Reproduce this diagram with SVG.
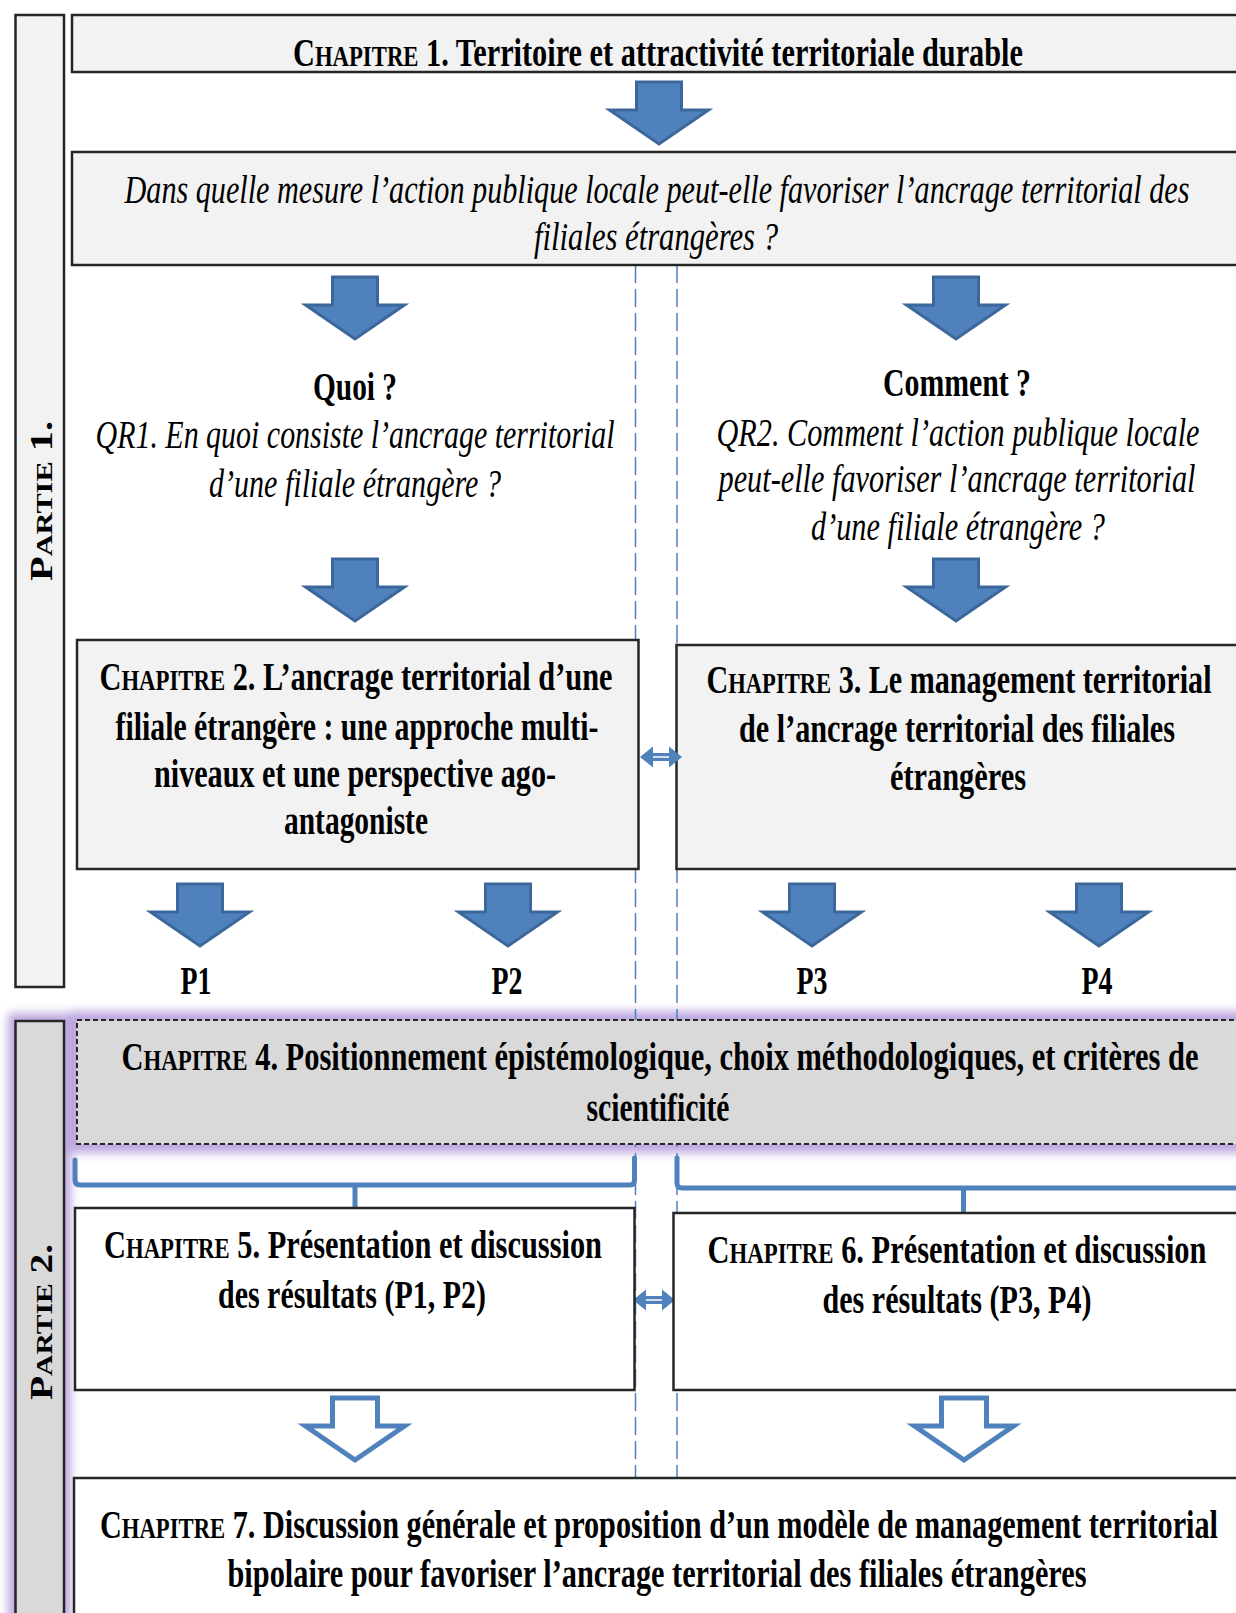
<svg xmlns="http://www.w3.org/2000/svg" width="1236" height="1613" viewBox="0 0 1236 1613">
  <style>
    .box { stroke: #262626; stroke-width: 2.5; }
    .light { fill: #f2f2f2; }
    .grey { fill: #d9d9d9; }
    .white { fill: #ffffff; }
    .dash { stroke-dasharray: 5 3; stroke-width: 2; }
    .b { font-family: "Liberation Serif", "Times New Roman", serif; font-weight: bold; font-size: 40px; fill: #000; text-anchor: middle; }
    .i { font-family: "Liberation Serif", "Times New Roman", serif; font-style: italic; font-size: 40px; fill: #000; text-anchor: middle; }
    .sc { font-size: 30px; }
    .part { font-family: "Liberation Serif", "Times New Roman", serif; font-weight: bold; font-size: 32px; fill: #000; text-anchor: middle; }
    .sc2 { font-size: 24px; }
    .guide { stroke: #4f81bd; stroke-width: 1.5; stroke-dasharray: 18 6; fill: none; }
    .brace { stroke: #4f81bd; stroke-width: 5; fill: none; stroke-linejoin: round; stroke-linecap: round; }
    .solid { fill: #4f81bd; stroke: #3c679b; stroke-width: 3; }
    .hollow { fill: #ffffff; stroke: #4f81bd; stroke-width: 5; }
    .dbl { fill: #4f81bd; }
  </style>
  <defs>
    <path id="downArrow" d="M -22.5 0 H 22.5 V 28 H 49.5 L 0 62 L -49.5 28 H -22.5 Z"/>
    <path id="lrArrow" d="M 0 0 L 13 -10.5 L 13 -4 L 29 -4 L 29 -10.5 L 42 0 L 29 10.5 L 29 4 L 13 4 L 13 10.5 Z"/>
    <filter id="soft" x="-10%" y="-10%" width="120%" height="120%">
      <feGaussianBlur stdDeviation="5"/>
    </filter>
  </defs>

  <rect width="1236" height="1613" fill="#ffffff"/>

  <!-- purple glow behind part 2 -->
  <g id="glow" filter="url(#soft)" fill="#a98bd4" opacity="0.75">
    <rect x="8" y="1013" width="63" height="620"/>
    <rect x="70" y="1011" width="1180" height="142"/>
  </g>

  <!-- connectors -->
  <g id="connectors">
    <line class="guide" x1="635.5" y1="265" x2="635.5" y2="1478"/>
    <line class="guide" x1="677" y1="265" x2="677" y2="1478"/>
    <path class="brace" d="M 75 1160 L 75 1180 Q 75 1185 80 1185 L 630 1185 Q 634.5 1185 634.5 1180 L 634.5 1158 M 355 1185 L 355 1208"/>
    <path class="brace" d="M 677 1158 L 677 1183 Q 677 1188 682 1188 L 1245 1188 M 963.5 1188 L 963.5 1213"/>
    <use href="#downArrow" class="solid" x="659" y="82"/>
    <use href="#downArrow" class="solid" x="355" y="277"/>
    <use href="#downArrow" class="solid" x="956" y="277"/>
    <use href="#downArrow" class="solid" x="355" y="559"/>
    <use href="#downArrow" class="solid" x="956" y="559"/>
    <use href="#downArrow" class="solid" x="200" y="884"/>
    <use href="#downArrow" class="solid" x="508" y="884"/>
    <use href="#downArrow" class="solid" x="812" y="884"/>
    <use href="#downArrow" class="solid" x="1099" y="884"/>
    <use href="#downArrow" class="hollow" x="355" y="1398"/>
    <use href="#downArrow" class="hollow" x="964" y="1398"/>
  </g>

  <!-- part bars -->
  <g id="partie1">
    <rect class="box light" x="15.5" y="15" width="48.5" height="972"/>
    <text class="part" transform="translate(52,501) rotate(-90)" textLength="160" lengthAdjust="spacingAndGlyphs">P<tspan class="sc2">ARTIE</tspan>  1.</text>
  </g>
  <g id="partie2">
    <rect class="box grey" x="15.5" y="1021" width="48.5" height="610"/>
    <text class="part" transform="translate(52,1322) rotate(-90)" textLength="156" lengthAdjust="spacingAndGlyphs">P<tspan class="sc2">ARTIE</tspan>  2.</text>
  </g>

  <g id="chapitre1">
    <rect class="box light" x="72" y="15" width="1180" height="57"/>
    <text class="b" x="658" y="66" textLength="730" lengthAdjust="spacingAndGlyphs">C<tspan class="sc">HAPITRE</tspan> 1. Territoire et attractivité territoriale durable</text>
  </g>

  <g id="question">
    <rect class="box light" x="72" y="152" width="1180" height="113"/>
    <text class="i" x="657" y="203" textLength="1065" lengthAdjust="spacingAndGlyphs">Dans quelle mesure l’action publique locale peut-elle favoriser l’ancrage territorial des</text>
    <text class="i" x="656" y="250" textLength="244" lengthAdjust="spacingAndGlyphs">filiales étrangères ?</text>
  </g>

  <g id="qr1">
    <text class="b" x="355" y="400" textLength="84" lengthAdjust="spacingAndGlyphs">Quoi ?</text>
    <text class="i" x="355" y="448" textLength="519" lengthAdjust="spacingAndGlyphs">QR1. En quoi consiste l’ancrage territorial</text>
    <text class="i" x="355" y="497" textLength="292" lengthAdjust="spacingAndGlyphs">d’une filiale étrangère ?</text>
  </g>

  <g id="qr2">
    <text class="b" x="957" y="396" textLength="148" lengthAdjust="spacingAndGlyphs">Comment ?</text>
    <text class="i" x="958" y="446" textLength="483" lengthAdjust="spacingAndGlyphs">QR2. Comment l’action publique locale</text>
    <text class="i" x="957" y="492" textLength="477" lengthAdjust="spacingAndGlyphs">peut-elle favoriser l’ancrage territorial</text>
    <text class="i" x="958" y="540" textLength="294" lengthAdjust="spacingAndGlyphs">d’une filiale étrangère ?</text>
  </g>

  <g id="chapitre2">
    <rect class="box light" x="77" y="640" width="561.5" height="229"/>
    <text class="b" x="356" y="690" textLength="513" lengthAdjust="spacingAndGlyphs">C<tspan class="sc">HAPITRE</tspan> 2. L’ancrage territorial d’une</text>
    <text class="b" x="357" y="740" textLength="483" lengthAdjust="spacingAndGlyphs">filiale étrangère : une approche multi-</text>
    <text class="b" x="355" y="787" textLength="402" lengthAdjust="spacingAndGlyphs">niveaux et une perspective ago-</text>
    <text class="b" x="356" y="834" textLength="144" lengthAdjust="spacingAndGlyphs">antagoniste</text>
  </g>

  <g id="chapitre3">
    <rect class="box light" x="676.5" y="645" width="580" height="224"/>
    <text class="b" x="959" y="693" textLength="505" lengthAdjust="spacingAndGlyphs">C<tspan class="sc">HAPITRE</tspan> 3. Le management territorial</text>
    <text class="b" x="957" y="742" textLength="436" lengthAdjust="spacingAndGlyphs">de l’ancrage territorial des filiales</text>
    <text class="b" x="958" y="790" textLength="136" lengthAdjust="spacingAndGlyphs">étrangères</text>
  </g>

  <g id="liens" class="dbl">
    <use href="#lrArrow" x="640" y="757"/>
    <use href="#lrArrow" x="633" y="1300"/>
    <line x1="653" y1="757" x2="669" y2="757" stroke="#ffffff" stroke-width="1.5"/>
    <line x1="646" y1="1300" x2="662" y2="1300" stroke="#ffffff" stroke-width="1.5"/>
  </g>

  <g id="propositions">
    <text class="b" x="196" y="994" textLength="31" lengthAdjust="spacingAndGlyphs">P1</text>
    <text class="b" x="507" y="994" textLength="31" lengthAdjust="spacingAndGlyphs">P2</text>
    <text class="b" x="812" y="994" textLength="31" lengthAdjust="spacingAndGlyphs">P3</text>
    <text class="b" x="1097" y="994" textLength="31" lengthAdjust="spacingAndGlyphs">P4</text>
  </g>

  <g id="chapitre4">
    <rect class="box grey dash" x="77" y="1020" width="1180" height="124"/>
    <text class="b" x="660" y="1070" textLength="1077" lengthAdjust="spacingAndGlyphs">C<tspan class="sc">HAPITRE</tspan> 4. Positionnement épistémologique, choix méthodologiques, et critères de</text>
    <text class="b" x="658" y="1121" textLength="143" lengthAdjust="spacingAndGlyphs">scientificité</text>
  </g>

  <g id="chapitre5">
    <rect class="box white" x="75" y="1208" width="559.5" height="182"/>
    <text class="b" x="353" y="1258" textLength="498" lengthAdjust="spacingAndGlyphs">C<tspan class="sc">HAPITRE</tspan> 5. Présentation et discussion</text>
    <text class="b" x="352" y="1308" textLength="268" lengthAdjust="spacingAndGlyphs">des résultats (P1, P2)</text>
  </g>

  <g id="chapitre6">
    <rect class="box white" x="673.5" y="1213" width="580" height="177"/>
    <text class="b" x="957" y="1263" textLength="499" lengthAdjust="spacingAndGlyphs">C<tspan class="sc">HAPITRE</tspan> 6. Présentation et discussion</text>
    <text class="b" x="957" y="1313" textLength="269" lengthAdjust="spacingAndGlyphs">des résultats (P3, P4)</text>
  </g>

  <g id="chapitre7">
    <rect class="box white" x="74" y="1478" width="1180" height="150"/>
    <text class="b" x="659" y="1538" textLength="1118" lengthAdjust="spacingAndGlyphs">C<tspan class="sc">HAPITRE</tspan> 7. Discussion générale et proposition d’un modèle de management territorial</text>
    <text class="b" x="657" y="1587" textLength="859" lengthAdjust="spacingAndGlyphs">bipolaire pour favoriser l’ancrage territorial des filiales étrangères</text>
  </g>
</svg>
